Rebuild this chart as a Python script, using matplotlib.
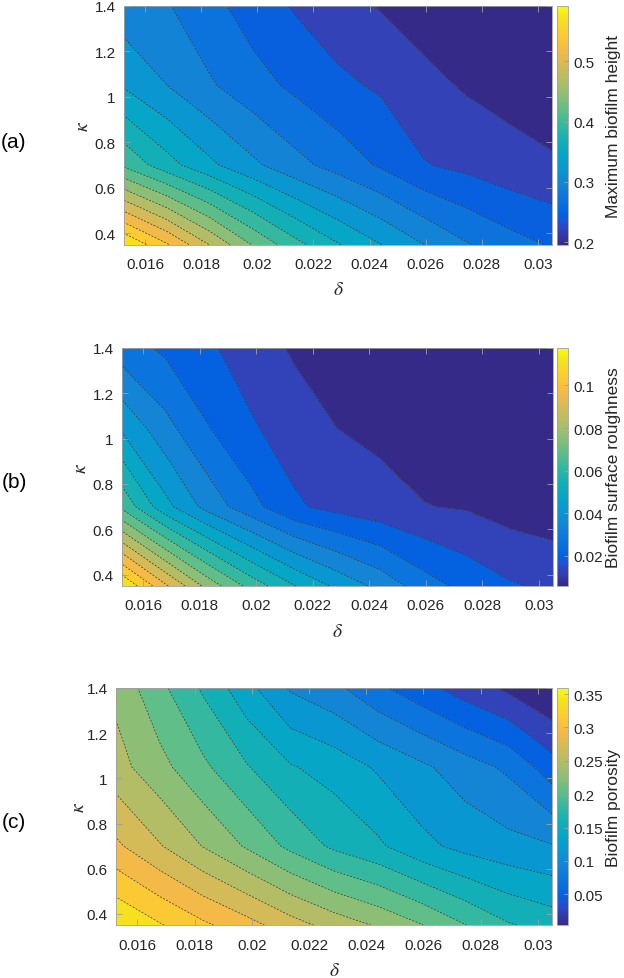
import numpy as np
import matplotlib
matplotlib.use('Agg')
import matplotlib.pyplot as plt
from matplotlib.colors import LinearSegmentedColormap, Normalize
import matplotlib.cm as cm

plt.rcParams['font.family'] = ['Liberation Sans', 'DejaVu Sans']
plt.rcParams['mathtext.fontset'] = 'stix'

# grid of the parameter sweep
delta = [0.01525, 0.016775, 0.0183, 0.019825, 0.02135, 0.022875,
         0.0244, 0.025925, 0.02745, 0.028975, 0.0305]
kappa = [0.35, 0.7, 1.05, 1.4]

# rows = kappa, columns = delta
height = [
    [0.592, 0.545, 0.492, 0.442, 0.402, 0.371, 0.345, 0.320, 0.297, 0.280, 0.268],
    [0.414, 0.379, 0.350, 0.325, 0.303, 0.285, 0.267, 0.247, 0.239, 0.230, 0.224],
    [0.342, 0.320, 0.298, 0.280, 0.265, 0.251, 0.242, 0.228, 0.218, 0.212, 0.206],
    [0.305, 0.297, 0.278, 0.259, 0.243, 0.230, 0.219, 0.209, 0.202, 0.198, 0.196],
]
roughness = [
    [0.1176, 0.098, 0.080, 0.066, 0.055, 0.046, 0.0385, 0.030, 0.0245, 0.0205, 0.0185],
    [0.067, 0.050, 0.038, 0.029, 0.0208, 0.0175, 0.0152, 0.0130, 0.0122, 0.0098, 0.0085],
    [0.0465, 0.036, 0.027, 0.0205, 0.0165, 0.0127, 0.0112, 0.0098, 0.0088, 0.0080, 0.0075],
    [0.030, 0.0255, 0.0208, 0.0165, 0.0118, 0.0100, 0.0088, 0.0078, 0.0070, 0.0063, 0.0058],
]
porosity = [
    [0.359, 0.339, 0.319, 0.301, 0.280, 0.2615, 0.2455, 0.227, 0.2045, 0.1835, 0.172],
    [0.2968, 0.272, 0.247, 0.223, 0.198, 0.177, 0.163, 0.143, 0.130, 0.122, 0.116],
    [0.2565, 0.233, 0.208, 0.183, 0.161, 0.150, 0.134, 0.119, 0.103, 0.088, 0.0578],
    [0.242, 0.2095, 0.178, 0.144, 0.112, 0.098, 0.075, 0.056, 0.037, 0.021, 0.0035],
]

xticks = [0.016, 0.018, 0.02, 0.022, 0.024, 0.026, 0.028, 0.03]
xticklabels = ['0.016', '0.018', '0.02', '0.022', '0.024', '0.026', '0.028', '0.03']
yticks = [0.4, 0.6, 0.8, 1.0, 1.2, 1.4]
yticklabels = ['0.4', '0.6', '0.8', '1', '1.2', '1.4']

cb_labels = ['Maximum biofilm height', 'Biofilm surface roughness', 'Biofilm porosity']
cb_ticks = [[0.2, 0.3, 0.4, 0.5],
            [0.02, 0.04, 0.06, 0.08, 0.1],
            [0.05, 0.1, 0.15, 0.2, 0.25, 0.3, 0.35]]
cb_ticklabels = [['0.2', '0.3', '0.4', '0.5'],
                 ['0.02', '0.04', '0.06', '0.08', '0.1'],
                 ['0.05', '0.1', '0.15', '0.2', '0.25', '0.3', '0.35']]
panel_tags = ['(a)', '(b)', '(c)']

# old MATLAB parula, sampled
parula_pts = [
    (0, (0.2081, 0.1663, 0.5292)), (2, (0.2123, 0.2138, 0.6270)),
    (4, (0.1959, 0.2645, 0.7279)), (6, (0.1253, 0.3242, 0.8303)),
    (8, (0.0117, 0.3875, 0.8820)), (12, (0.0498, 0.4586, 0.8641)),
    (16, (0.0793, 0.5200, 0.8312)), (20, (0.0343, 0.5966, 0.8199)),
    (24, (0.0228, 0.6535, 0.7768)), (28, (0.0843, 0.6928, 0.7062)),
    (32, (0.2178, 0.7250, 0.6193)), (36, (0.3953, 0.7459, 0.5244)),
    (40, (0.5709, 0.7485, 0.4494)), (44, (0.7184, 0.7411, 0.3905)),
    (48, (0.8507, 0.7299, 0.3360)), (52, (0.9739, 0.7314, 0.2666)),
    (56, (0.9880, 0.8066, 0.1794)), (60, (0.9589, 0.8949, 0.1132)),
    (63, (0.9763, 0.9831, 0.0538)),
]
parula = LinearSegmentedColormap.from_list('parula', [(i / 63, c) for i, c in parula_pts])

W, H = 624, 979
# pixel boxes: left, right, top, bottom
ax_px = [(124, 552, 7, 245.5), (122, 553, 349, 587), (116, 552, 689, 926.3)]
ylab_x = [84, 82, 80]
tag_y = [142, 483, 823]

fig = plt.figure(figsize=(W / 100, H / 100), dpi=100)
grey = '#a0a0a0'

for i, z in enumerate([height, roughness, porosity]):
    l, r, t, b = ax_px[i]
    ax = fig.add_axes([l / W, 1 - b / H, (r - l) / W, (b - t) / H])
    Z = np.array(z)
    vmin, vmax = Z.min(), Z.max()
    levels = np.linspace(vmin, vmax, 17)
    norm = Normalize(vmin, vmax)
    fill_cols = [parula(norm(v)) for v in levels[:-1]]
    flev = levels.copy()
    flev[0] -= 1e-9
    flev[-1] += 1e-9
    ax.contourf(delta, kappa, Z, levels=flev, colors=fill_cols)
    ax.contour(delta, kappa, Z, levels=levels[1:-1], colors='#383838',
               linewidths=0.5, linestyles=[(0, (3, 2))])
    ax.set_xlim(delta[0], delta[-1])
    ax.set_ylim(kappa[0], kappa[-1])
    ax.set_xticks(xticks)
    ax.set_xticklabels(xticklabels)
    ax.set_yticks(yticks)
    ax.set_yticklabels(yticklabels)
    ax.tick_params(direction='in', top=True, right=True, length=4, width=0.6,
                   color=grey, labelcolor='#262626', labelsize=11)
    ax.tick_params(axis='x', pad=9)
    ax.tick_params(axis='y', pad=6)
    for s in ax.spines.values():
        s.set_color(grey)
        s.set_linewidth(0.6)
    ax.set_xlabel(r'$\delta$', fontsize=14, color='#262626', va='center', ha='center')
    ax.xaxis.set_label_coords(0.5, -0.19)
    ax.set_ylabel(r'$\kappa$', fontsize=14, color='#262626', va='center', ha='center')
    ax.yaxis.set_label_coords((ylab_x[i] - l) / (r - l), 0.5)
    fig.text(14 / W, 1 - tag_y[i] / H, panel_tags[i], fontsize=15,
             ha='center', va='center', color='black')

    cax = fig.add_axes([557 / W, 1 - b / H, 11 / W, (b - t) / H])
    cb = fig.colorbar(cm.ScalarMappable(norm=norm, cmap=parula), cax=cax)
    cb.set_ticks(cb_ticks[i])
    cb.set_ticklabels(cb_ticklabels[i])
    cb.outline.set_edgecolor(grey)
    cb.outline.set_linewidth(0.6)
    cax.tick_params(direction='in', length=3, width=0.6, color=grey,
                    labelcolor='#262626', labelsize=11, pad=4)
    cax.set_ylabel(cb_labels[i], fontsize=12.5, color='#262626',
                   rotation=90, va='center', ha='center')
    cax.yaxis.set_label_position('right')
    cax.yaxis.set_label_coords((606 - 557) / 11, 0.5)

fig.savefig('out.png', dpi=100)
